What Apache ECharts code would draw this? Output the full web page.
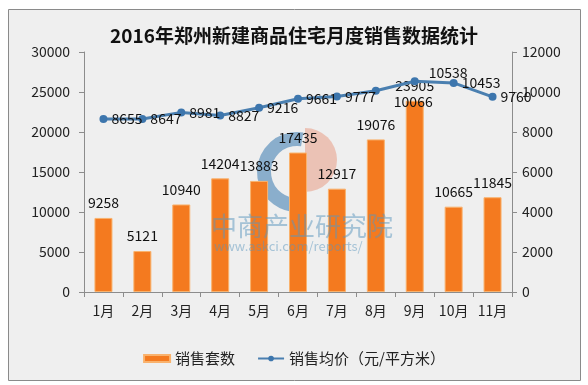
<!DOCTYPE html>
<html>
<head>
<meta charset="utf-8">
<script src="https://cdn.jsdelivr.net/npm/echarts@6/dist/echarts.min.js"></script>
<style>html,body{margin:0;padding:0;background:#fff}#c{width:588px;height:385px}</style>
</head>
<body>
<div id="c"></div>
<script>
const titleText = '2016年郑州新建商品住宅月度销售数据统计';
const categories = ['1月','2月','3月','4月','5月','6月','7月','8月','9月','10月','11月'];
const salesUnits = [9258, 5121, 10940, 14204, 13883, 17435, 12917, 19076, 23905, 10665, 11845];
const avgPrice = [8655, 8647, 8981, 8827, 9216, 9661, 9777, 10066, 10538, 10453, 9760];
const seriesNames = ['销售套数', '销售均价（元/平方米）'];
const watermark = ['中商产业研究院', 'www.askci.com/reports/'];

// label nudges (style only, per point index)
const lineLabelOffsets = {7: [10, 11], 8: [6, -9]};

const font = '"Noto Sans CJK SC", "Microsoft YaHei", sans-serif';
const chart = echarts.init(document.getElementById('c'), null, {renderer: 'canvas'});
const axisLine = {show: true, lineStyle: {color: '#8c8c8c', width: 1}};
const axisTick = {show: true, length: 5, lineStyle: {color: '#8c8c8c'}};
const plain = v => String(v);
const lineData = avgPrice.map((v, i) => lineLabelOffsets[i]
  ? {value: v, label: {offset: lineLabelOffsets[i]}} : v);
chart.setOption({
  backgroundColor: '#ffffff',
  animation: false,
  textStyle: {fontFamily: font},
  graphic: [
    {type: 'rect', z: -10, shape: {x: 8.5, y: 9.5, width: 572, height: 371}, style: {fill: '#efefef', stroke: '#8a8a8a', lineWidth: 1}},
    {type: 'arc', z: -5, shape: {cx: 297, cy: 172, r: 33, startAngle: Math.PI * 0.45, endAngle: Math.PI * 1.55, clockwise: true}, style: {stroke: 'rgba(70,130,180,0.6)', lineWidth: 14, fill: null}},
    {type: 'sector', z: -5, shape: {cx: 305, cy: 160, r: 32, r0: 0, startAngle: -Math.PI / 2, endAngle: Math.PI / 2}, style: {fill: 'rgba(230,140,110,0.45)'}},
    {type: 'text', z: 50, left: 211, top: 213, style: {text: watermark[0], fill: 'rgba(90,150,190,0.5)', font: '26px ' + font}},
    {type: 'text', z: 50, left: 214, top: 240, style: {text: watermark[1], fill: 'rgba(90,150,190,0.5)', font: '13px ' + font}}
  ],
  title: {
    text: titleText, left: 'center', top: 21,
    textStyle: {fontSize: 19, fontWeight: 'bold', color: '#111', fontFamily: font}
  },
  legend: {
    bottom: 14, left: 'center', itemGap: 22, itemWidth: 26, itemHeight: 7,
    textStyle: {fontSize: 15, color: '#222', fontFamily: font},
    data: [{name: seriesNames[0], icon: 'rect'}, {name: seriesNames[1]}]
  },
  grid: {left: 84, right: 76, top: 52, bottom: 93, containLabel: false},
  xAxis: {
    type: 'category', data: categories,
    axisLine: axisLine, axisTick: axisTick,
    axisLabel: {fontSize: 14, color: '#222', margin: 12, fontFamily: font}
  },
  yAxis: [
    {type: 'value', min: 0, max: 30000, interval: 5000, position: 'left',
     axisLine: axisLine, axisTick: axisTick, splitLine: {show: false},
     axisLabel: {fontSize: 14, color: '#222', margin: 14, fontFamily: font, formatter: plain}},
    {type: 'value', min: 0, max: 12000, interval: 2000, position: 'right',
     axisLine: axisLine, axisTick: axisTick, splitLine: {show: false},
     axisLabel: {fontSize: 14, color: '#222', margin: 10, fontFamily: font, formatter: plain}}
  ],
  series: [
    {name: seriesNames[0], type: 'bar', data: salesUnits, yAxisIndex: 0, barWidth: 18,
     itemStyle: {color: '#f47a1f', borderColor: '#f9b26d', borderWidth: 1},
     label: {show: true, position: 'top', distance: 8, fontSize: 14, color: '#111', fontFamily: font, formatter: p => String(p.value)}},
    {name: seriesNames[1], type: 'line', data: lineData, yAxisIndex: 1,
     symbol: 'circle', symbolSize: 8,
     lineStyle: {color: '#4a7fb0', width: 3},
     itemStyle: {color: '#3d76ad'},
     label: {show: true, position: 'right', distance: 4, fontSize: 14, color: '#111', fontFamily: font, formatter: p => String(p.value)}}
  ]
});
</script>
</body>
</html>
